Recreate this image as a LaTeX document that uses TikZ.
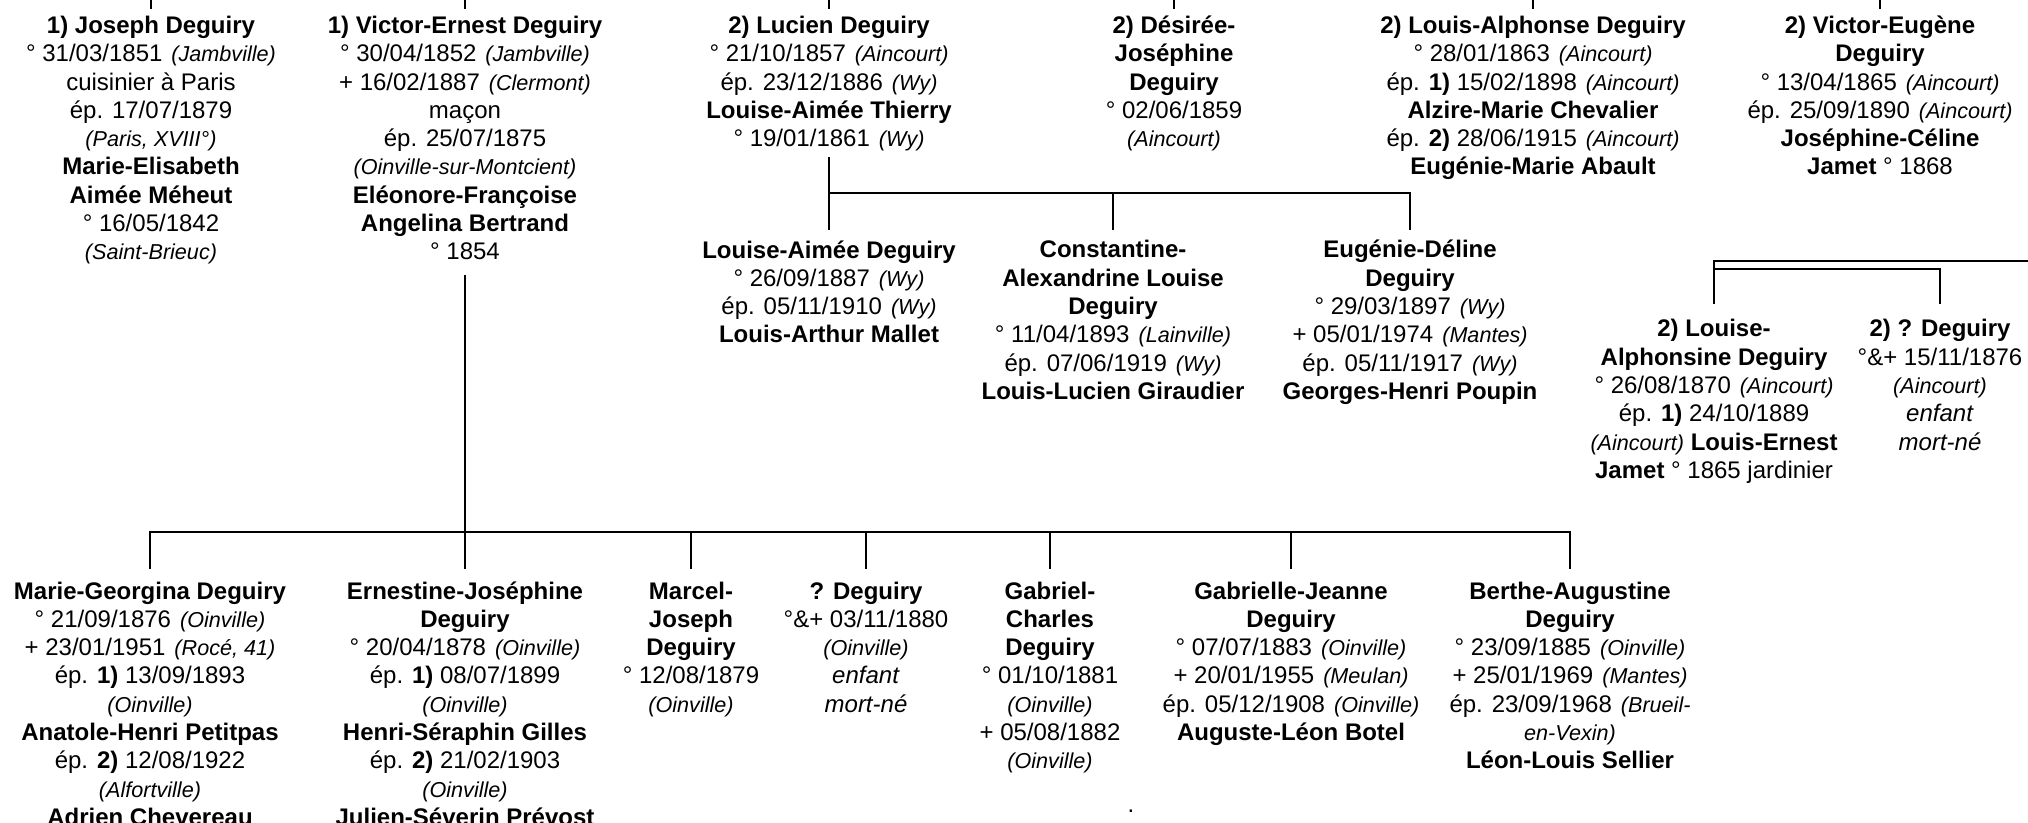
\documentclass[tikz,border=0pt]{standalone}
\usepackage{fontspec}
\setmainfont{Liberation Sans}
\newcommand\plc[1]{{\fontsize{10.8}{14.15}\selectfont\itshape(#1)}}
\newcommand\gp{\hspace{4.5pt}}
\newcommand\fs{\rule{0pt}{10pt}}
\begin{document}
\begin{tikzpicture}[x=0.5pt,y=-0.5pt,
  per/.style={anchor=north, align=center, inner sep=0pt, font=\fontsize{12}{14.15}\selectfont},
  conn/.style={line width=1pt}]
\useasboundingbox (0,0) rectangle (2028,823);
\coordinate (top) at (0,0);
\coordinate (bbar) at (0,532);
\coordinate (mbar) at (0,193);
\coordinate (redge) at (2028,261);
\coordinate (rin) at (0,269);

% ---- top row
\node[per] (jos) at (151,13.1) {\fs\textbf{1) Joseph Deguiry}\\ ° 31/03/1851\gp\plc{Jambville}\\ cuisinier à Paris\\ ép. 17/07/1879\\ \plc{Paris, XVIII°}\\ \textbf{Marie-Elisabeth}\\ \textbf{Aimée Méheut}\\ ° 16/05/1842\\ \plc{Saint-Brieuc}};
\node[per] (ve) at (465,13.1) {\fs\textbf{1) Victor-Ernest Deguiry}\\ ° 30/04/1852\gp\plc{Jambville}\\ + 16/02/1887\gp\plc{Clermont}\\ maçon\\ ép. 25/07/1875\\ \plc{Oinville-sur-Montcient}\\ \textbf{Eléonore-Françoise}\\ \textbf{Angelina Bertrand}\\ ° 1854};
\node[per] (luc) at (829,13.1) {\fs\textbf{2) Lucien Deguiry}\\ ° 21/10/1857\gp\plc{Aincourt}\\ ép. 23/12/1886\gp\plc{Wy}\\ \textbf{Louise-Aimée Thierry}\\ ° 19/01/1861\gp\plc{Wy}};
\node[per] (des) at (1174,13.1) {\fs\textbf{2) Désirée-}\\ \textbf{Joséphine}\\ \textbf{Deguiry}\\ ° 02/06/1859\\ \plc{Aincourt}};
\node[per] (la) at (1533,13.1) {\fs\textbf{2) Louis-Alphonse Deguiry}\\ ° 28/01/1863\gp\plc{Aincourt}\\ ép. \textbf{1)} 15/02/1898\gp\plc{Aincourt}\\ \textbf{Alzire-Marie Chevalier}\\ ép. \textbf{2)} 28/06/1915\gp\plc{Aincourt}\\ \textbf{Eugénie-Marie Abault}};
\node[per] (veu) at (1880,13.1) {\fs\textbf{2) Victor-Eugène}\\ \textbf{Deguiry}\\ ° 13/04/1865\gp\plc{Aincourt}\\ ép. 25/09/1890\gp\plc{Aincourt}\\ \textbf{Joséphine-Céline}\\ \textbf{Jamet} ° 1868};

% ---- Lucien's children
\node[per] (m1) at (829,237.6) {\fs\textbf{Louise-Aimée Deguiry}\\ ° 26/09/1887\gp\plc{Wy}\\ ép. 05/11/1910\gp\plc{Wy}\\ \textbf{Louis-Arthur Mallet}};
\node[per] (m2) at (1113,237.6) {\fs\textbf{Constantine-}\\ \textbf{Alexandrine Louise}\\ \textbf{Deguiry}\\ ° 11/04/1893\gp\plc{Lainville}\\ ép. 07/06/1919\gp\plc{Wy}\\ \textbf{Louis-Lucien Giraudier}};
\node[per] (m3) at (1410,237.6) {\fs\textbf{Eugénie-Déline}\\ \textbf{Deguiry}\\ ° 29/03/1897\gp\plc{Wy}\\ + 05/01/1974\gp\plc{Mantes}\\ ép. 05/11/1917\gp\plc{Wy}\\ \textbf{Georges-Henri Poupin}};

% ---- right group
\node[per] (r1) at (1714,316.6) {\fs\textbf{2) Louise-}\\ \textbf{Alphonsine Deguiry}\\ ° 26/08/1870\gp\plc{Aincourt}\\ ép. \textbf{1)} 24/10/1889\\ \plc{Aincourt} \textbf{Louis-Ernest}\\ \textbf{Jamet} ° 1865 jardinier};
\node[per] (r2) at (1940,316.6) {\fs\textbf{2) ? Deguiry}\\ °\&+ 15/11/1876\\ \plc{Aincourt}\\ \textit{enfant}\\ \textit{mort-né}};

% ---- bottom row
\node[per] (b1) at (150,578.6) {\fs\textbf{Marie-Georgina Deguiry}\\ ° 21/09/1876\gp\plc{Oinville}\\ + 23/01/1951\gp\plc{Rocé, 41}\\ ép. \textbf{1)} 13/09/1893\\ \plc{Oinville}\\ \textbf{Anatole-Henri Petitpas}\\ ép. \textbf{2)} 12/08/1922\\ \plc{Alfortville}\\ \textbf{Adrien Chevereau}};
\node[per] (b2) at (465,578.6) {\fs\textbf{Ernestine-Joséphine}\\ \textbf{Deguiry}\\ ° 20/04/1878\gp\plc{Oinville}\\ ép. \textbf{1)} 08/07/1899\\ \plc{Oinville}\\ \textbf{Henri-Séraphin Gilles}\\ ép. \textbf{2)} 21/02/1903\\ \plc{Oinville}\\ \textbf{Julien-Séverin Prévost}};
\node[per] (b3) at (691,578.6) {\fs\textbf{Marcel-}\\ \textbf{Joseph}\\ \textbf{Deguiry}\\ ° 12/08/1879\\ \plc{Oinville}};
\node[per] (b4) at (866,578.6) {\fs\textbf{? Deguiry}\\ °\&+ 03/11/1880\\ \plc{Oinville}\\ \textit{enfant}\\ \textit{mort-né}};
\node[per] (b5) at (1050,578.6) {\fs\textbf{Gabriel-}\\ \textbf{Charles}\\ \textbf{Deguiry}\\ ° 01/10/1881\\ \plc{Oinville}\\ + 05/08/1882\\ \plc{Oinville}};
\node[per] (b6) at (1291,578.6) {\fs\textbf{Gabrielle-Jeanne}\\ \textbf{Deguiry}\\ ° 07/07/1883\gp\plc{Oinville}\\ + 20/01/1955\gp\plc{Meulan}\\ ép. 05/12/1908\gp\plc{Oinville}\\ \textbf{Auguste-Léon Botel}};
\node[per] (b7) at (1570,578.6) {\fs\textbf{Berthe-Augustine}\\ \textbf{Deguiry}\\ ° 23/09/1885\gp\plc{Oinville}\\ + 25/01/1969\gp\plc{Mantes}\\ ép. 23/09/1968\gp{\fontsize{10.8}{14.15}\selectfont\itshape(Brueil-}\\ {\fontsize{10.8}{14.15}\selectfont\itshape en-Vexin)}\\ \textbf{Léon-Louis Sellier}};

\node[inner sep=0pt, font=\fontsize{12}{14.15}\selectfont] (dot) at (1131,811) {.};

% ---- connectors
\foreach \n in {jos,ve,luc,des,la,veu}
  \draw[conn] (\n.north |- top) -- ([yshift=2pt]\n.north);
\draw[conn] ([yshift=-131pt]ve.north) -- ([yshift=4.8pt]b2.north);
\draw[conn] ([yshift=4.8pt]b1.north) |- (b7.north |- bbar) -- ([yshift=4.8pt]b7.north);
\foreach \n in {b3,b4,b5,b6}
  \draw[conn] (\n.north |- bbar) -- ([yshift=4.8pt]\n.north);
\draw[conn] ([yshift=-72pt]luc.north) -- ([yshift=3.8pt]m1.north);
\draw[conn] (m1.north |- mbar) -| ([yshift=3.8pt]m3.north);
\draw[conn] (m2.north |- mbar) -- ([yshift=3.8pt]m2.north);
\draw[conn] (redge) -| ([yshift=6.3pt]r1.north);
\draw[conn] (r1.north |- rin) -| ([yshift=6.3pt]r2.north);
\end{tikzpicture}
\end{document}
